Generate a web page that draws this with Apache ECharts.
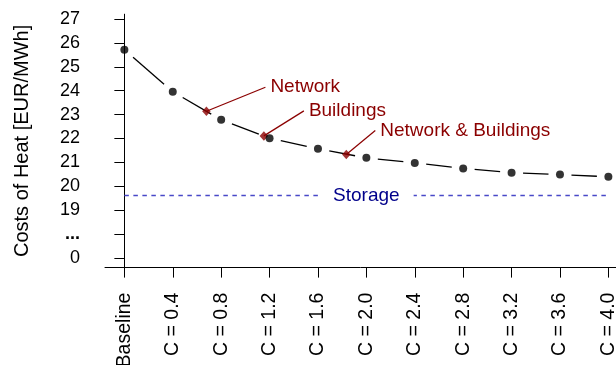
<!DOCTYPE html>
<html>
<head>
<meta charset="utf-8">
<script src="https://cdn.jsdelivr.net/npm/echarts@6/dist/echarts.min.js"></script>
<style>
  html, body { margin: 0; padding: 0; background: #fff; }
  #chart { width: 616px; height: 365px; }
</style>
</head>
<body>
<div id="chart"></div>
<script>
// Scenario categories along the x axis and their positions (C value, baseline at 0)
const categories = ['Baseline', 'C = 0.4', 'C = 0.8', 'C = 1.2', 'C = 1.6', 'C = 2.0',
                    'C = 2.4', 'C = 2.8', 'C = 3.2', 'C = 3.6', 'C = 4.0'];
const capacityPositions = [0, 0.4, 0.8, 1.2, 1.6, 2.0, 2.4, 2.8, 3.2, 3.6, 4.0];

// Heat costs per scenario [EUR/MWh]
const heatCosts = [25.71, 23.96, 22.78, 22.01, 21.57, 21.19, 20.98, 20.75, 20.57, 20.49, 20.40];

// Equivalent points for the alternative measures
const measureNames = ['Network', 'Buildings', 'Network & Buildings'];
const measurePositions = [0.678, 1.153, 1.834];
const measureCosts = [23.14, 22.11, 21.33];

// Storage reference level
const storageCost = 19.62;
const storageName = 'Storage';

// Broken y axis: the lowest tick stands for zero
const yTickValues = [17, 18, 19, 20, 21, 22, 23, 24, 25, 26, 27];
const yTickLabels = ['0', '...', '19', '20', '21', '22', '23', '24', '25', '26', '27'];

const FONT = '"Liberation Sans", Arial, Helvetica, sans-serif';
const RED = '#8b0000';
const POINT_GAP = 11.5;                        // gap left around each point (type "b" line)
const calloutOffsets = [[59, -24], [40, -25], [29, -24]];

const chart = echarts.init(document.getElementById('chart'), null, { renderer: 'canvas' });

function categoryFor(v) {
  const i = capacityPositions.findIndex(p => Math.abs(p - v) < 1e-6);
  return i >= 0 ? categories[i] : '';
}
function yLabelFor(v) {
  const i = yTickValues.findIndex(p => Math.abs(p - v) < 1e-6);
  if (i < 0) return '';
  return yTickLabels[i] === '...' ? '{dots|...}' : yTickLabels[i];
}

const option = {
  animation: false,
  backgroundColor: '#fff',
  grid: { left: 105, top: 14.2, width: 511, height: 253.4, containLabel: false,
          outerBoundsMode: 'none' },
  xAxis: {
    type: 'value',
    min: -0.16,
    max: 4.063,
    splitLine: { show: false },
    axisLine: { show: true, lineStyle: { color: '#000', width: 1 } },
    axisTick: { show: true, customValues: capacityPositions, length: 10,
                lineStyle: { color: '#000', width: 1 } },
    axisLabel: {
      customValues: capacityPositions,
      formatter: v => categoryFor(v),
      rotate: 90,
      margin: 25,
      color: '#000',
      fontFamily: FONT,
      fontSize: 19.5
    }
  },
  yAxis: {
    type: 'value',
    min: 16.6,
    max: 27.2,
    name: 'Costs of Heat [EUR/MWh]',
    nameLocation: 'middle',
    nameRotate: 90,
    nameGap: 73,
    nameTextStyle: { color: '#000', fontFamily: FONT, fontSize: 20 },
    splitLine: { show: false },
    axisLine: { show: true, lineStyle: { color: '#000', width: 1 } },
    axisTick: { show: true, customValues: yTickValues, length: 10,
                lineStyle: { color: '#000', width: 1 } },
    axisLabel: {
      customValues: yTickValues,
      formatter: v => yLabelFor(v),
      margin: 25,
      color: '#000',
      fontFamily: FONT,
      fontSize: 18,
      rich: { dots: { fontFamily: FONT, fontSize: 18, fontWeight: 'bold', color: '#000' } }
    }
  },
  series: [
    {
      // storage reference line
      type: 'line',
      data: [[capacityPositions[0], storageCost], [capacityPositions[capacityPositions.length - 1], storageCost]],
      symbol: 'none',
      silent: true,
      lineStyle: { color: '#4848c8', width: 1.5, type: [4.5, 4.5] },
      z: 2
    },
    {
      // storage label with a white box that interrupts the dashed line
      type: 'custom',
      data: [[capacityPositions[5], storageCost]],
      encode: { x: 0, y: 1 },
      clip: false,
      silent: true,
      renderItem(params, api) {
        const p = api.coord([api.value(0), api.value(1)]);
        return {
          type: 'text',
          style: {
            x: p[0], y: p[1], text: storageName,
            fill: '#00008b', font: '19px ' + FONT,
            align: 'center', verticalAlign: 'middle',
            backgroundColor: '#fff', padding: [2, 14]
          }
        };
      },
      z: 3
    },
    {
      // cost curve drawn as segments that stop short of each point
      type: 'custom',
      data: heatCosts.map((v, i) => [capacityPositions[i], v]),
      encode: { x: 0, y: 1 },
      clip: false,
      silent: true,
      renderItem(params, api) {
        const i = params.dataIndex;
        if (i === 0) return null;
        const p0 = api.coord([capacityPositions[i - 1], heatCosts[i - 1]]);
        const p1 = api.coord([api.value(0), api.value(1)]);
        const dx = p1[0] - p0[0], dy = p1[1] - p0[1];
        const g = POINT_GAP / Math.hypot(dx, dy);
        return {
          type: 'line',
          shape: { x1: p0[0] + dx * g, y1: p0[1] + dy * g, x2: p1[0] - dx * g, y2: p1[1] - dy * g },
          style: { stroke: '#000', lineWidth: 1.3 }
        };
      },
      z: 4
    },
    {
      // callout lines and labels for the alternative measures
      type: 'custom',
      data: measureCosts.map((v, i) => [measurePositions[i], v]),
      encode: { x: 0, y: 1 },
      clip: false,
      silent: true,
      renderItem(params, api) {
        const i = params.dataIndex;
        const p = api.coord([api.value(0), api.value(1)]);
        const [ox, oy] = calloutOffsets[i];
        return {
          type: 'group',
          children: [
            { type: 'line',
              shape: { x1: p[0], y1: p[1], x2: p[0] + ox, y2: p[1] + oy },
              style: { stroke: RED, lineWidth: 1.2 } },
            { type: 'text',
              style: { x: p[0] + ox + 5, y: p[1] + oy, text: measureNames[i],
                       fill: RED, font: '19px ' + FONT, align: 'left', verticalAlign: 'middle' } }
          ]
        };
      },
      z: 5
    },
    {
      type: 'scatter',
      data: measureCosts.map((v, i) => [measurePositions[i], v]),
      symbol: 'diamond',
      symbolSize: [8.5, 9.5],
      itemStyle: { color: RED },
      silent: true,
      z: 6
    },
    {
      type: 'scatter',
      data: heatCosts.map((v, i) => [capacityPositions[i], v]),
      symbol: 'circle',
      symbolSize: 8,
      itemStyle: { color: '#000' },
      silent: true,
      z: 7
    }
  ]
};

chart.setOption(option);
</script>
</body>
</html>
